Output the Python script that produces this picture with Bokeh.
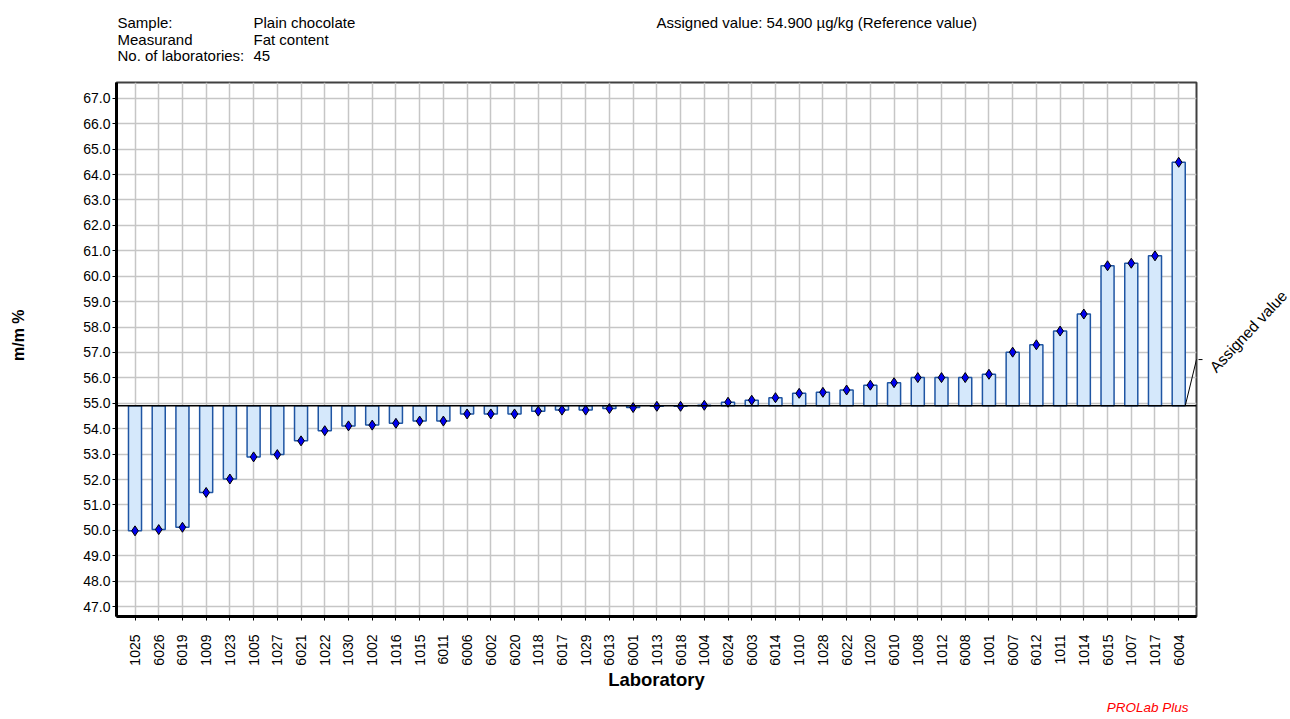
import math
from bokeh.plotting import figure
from bokeh.layouts import column, row
from bokeh.models import Range1d, FixedTicker, NumeralTickFormatter, Span, Title, ColumnDataSource
from bokeh.core.properties import value
from bokeh.embed import file_html
from bokeh.resources import INLINE

# ---------------- data ----------------
labs = ["1025", "6026", "6019", "1009", "1023", "1005", "1027", "6021", "1022", "1030",
        "1002", "1016", "1015", "6011", "6006", "6002", "6020", "1018", "6017", "1029",
        "6013", "6001", "1013", "6018", "1004", "6024", "6003", "6014", "1010", "1028",
        "6022", "1020", "6010", "1008", "1012", "6008", "1001", "6007", "6012", "1011",
        "1014", "6015", "1007", "1017", "6004"]
values = [49.98, 50.03, 50.12, 51.49, 52.02, 52.89, 52.98, 53.52, 53.92, 54.11,
          54.14, 54.21, 54.30, 54.30, 54.58, 54.58, 54.58, 54.69, 54.73, 54.73,
          54.79, 54.83, 54.88, 54.88, 54.92, 55.04, 55.12, 55.22, 55.39, 55.43,
          55.52, 55.71, 55.81, 56.01, 56.01, 56.01, 56.14, 57.01, 57.30, 57.84,
          58.51, 60.41, 60.51, 60.80, 64.48]
assigned = 54.9
y_ticks = list(range(47, 68))

header_keys = ["Sample:", "Measurand", "No. of laboratories:"]
header_vals = ["Plain chocolate", "Fat content", "45"]
assigned_text = "Assigned value:  54.900 \u00b5g/kg (Reference value)"

FONT = "Liberation Sans"

# ---------------- layout (page pixels) ----------------
TOTAL_W, TOTAL_H = 1290, 719
HEAD_H = 75
LEFT_W = 40
FL, FR, FT, FB = 116, 1196, 82, 623      # frame edges on the page
MAIN_W = FR + 2 - LEFT_W
RIGHT_W = TOTAL_W - LEFT_W - MAIN_W
BODY_H = TOTAL_H - HEAD_H
X0, X1 = -0.78, 44.75
Y0, Y1 = 46.61, 67.62
BAR_W = 0.55


def dy(py):
    return Y0 + (FB - py) / (FB - FT) * (Y1 - Y0)


def strip(width, x_start, y_range):
    f = figure(width=width, height=BODY_H, output_backend="svg", toolbar_location=None,
               x_range=Range1d(x_start, x_start + width), y_range=y_range,
               x_axis_location=None, y_axis_location=None,
               min_border_left=0, min_border_right=0,
               min_border_top=FT - HEAD_H, min_border_bottom=TOTAL_H - FB)
    f.grid.visible = False
    f.outline_line_color = None
    return f


# ---------------- header ----------------
head = figure(width=TOTAL_W, height=HEAD_H, output_backend="svg", toolbar_location=None,
              x_range=Range1d(0, TOTAL_W), y_range=Range1d(HEAD_H, 0),
              x_axis_location=None, y_axis_location=None, min_border=0)
head.grid.visible = False
head.outline_line_color = None
row_y = [22, 38.5, 55]
txt = dict(text_font=value(FONT), text_font_size="15px", text_baseline="alphabetic",
           text_align="left", text_color="black")
head.text(x=[117] * 3, y=row_y, text=header_keys, **txt)
head.text(x=[253] * 3, y=row_y, text=header_vals, **txt)
head.text(x=[656], y=[22], text=[assigned_text], **txt)

# ---------------- main chart ----------------
p = figure(width=MAIN_W, height=BODY_H, output_backend="svg", toolbar_location=None,
           x_range=Range1d(X0, X1), y_range=Range1d(Y0, Y1),
           min_border_left=FL - LEFT_W, min_border_right=2,
           min_border_top=FT - HEAD_H, min_border_bottom=TOTAL_H - FB)
p.background_fill_color = "white"
p.border_fill_color = "white"
p.outline_line_color = "#404040"
p.outline_line_width = 2

idx = list(range(len(labs)))
src = ColumnDataSource(dict(x=idx, top=values, bottom=[assigned] * len(values)))

p.xgrid.ticker = FixedTicker(ticks=idx)
p.ygrid.ticker = FixedTicker(ticks=y_ticks)
for g in (p.xgrid[0], p.ygrid[0]):
    g.grid_line_color = "#C6C6C6"
    g.grid_line_width = 1.5

p.xaxis.ticker = FixedTicker(ticks=idx)
p.xaxis.major_label_overrides = {i: l for i, l in enumerate(labs)}
p.xaxis.major_label_orientation = math.pi / 2
p.yaxis.ticker = FixedTicker(ticks=y_ticks)
p.yaxis.formatter = NumeralTickFormatter(format="0.0")
for ax in (p.xaxis[0], p.yaxis[0]):
    ax.axis_line_color = "black"
    ax.axis_line_width = 3
    ax.major_tick_line_color = "black"
    ax.major_tick_out = 4
    ax.major_tick_in = 0
    ax.minor_tick_line_color = None
    ax.major_label_text_font = FONT
    ax.major_label_text_font_size = "14px"
    ax.major_label_text_color = "black"
    ax.axis_label_text_font = FONT
    ax.axis_label_text_font_style = "bold"
    ax.axis_label_text_color = "black"
p.yaxis.major_label_standoff = 2
p.xaxis.major_label_standoff = 14
p.xaxis.axis_label = "Laboratory"
p.xaxis.axis_label_text_font_size = "18.5px"
p.xaxis.axis_label_standoff = 0

p.add_layout(Title(text="PROLab Plus", align="right", text_font=FONT, text_font_size="13.5px",
                   text_font_style="italic", text_color="#FF0000", offset=8), "below")

p.add_layout(Span(location=assigned, dimension="width", line_color="black", line_width=1.5))

p.vbar(x="x", top="top", bottom="bottom", width=BAR_W, source=src,
       fill_color="#D5E8FB", line_color="#1F55A3", line_width=1.5)
p.scatter(x="x", y="top", source=src, marker="diamond", size=10,
          fill_color="#0000EE", line_color="black", line_width=1)

# leader from the assigned line to the label
lead_y = dy(362.7)
p.line(x=[idx[-1] + BAR_W / 2, X1, X1 + 1], y=[assigned, lead_y, lead_y],
       line_color="black", line_width=1)

# ---------------- left strip: y axis title ----------------
lf = strip(LEFT_W, 0, p.y_range)
lf.text(x=[18], y=[dy(338)], text=["m/m %"], angle=math.pi / 2,
        text_font=value(FONT), text_font_size="16px", text_font_style="bold",
        text_baseline="middle", text_align="center", text_color="black")

# ---------------- right strip with the label ----------------
rt = strip(RIGHT_W, LEFT_W + MAIN_W, p.y_range)
rt.line(x=[LEFT_W + MAIN_W - 2, 1202], y=[lead_y, lead_y], line_color="black", line_width=1)
rt.text(x=[1212], y=[dy(373)], text=["Assigned value"], angle=math.radians(47),
        text_font=value(FONT), text_font_size="15.5px", text_baseline="alphabetic",
        text_align="left", text_color="black")

layout = column(head, row(lf, p, rt, spacing=0), spacing=0)
open("out.html", "w").write(file_html(layout, INLINE))
